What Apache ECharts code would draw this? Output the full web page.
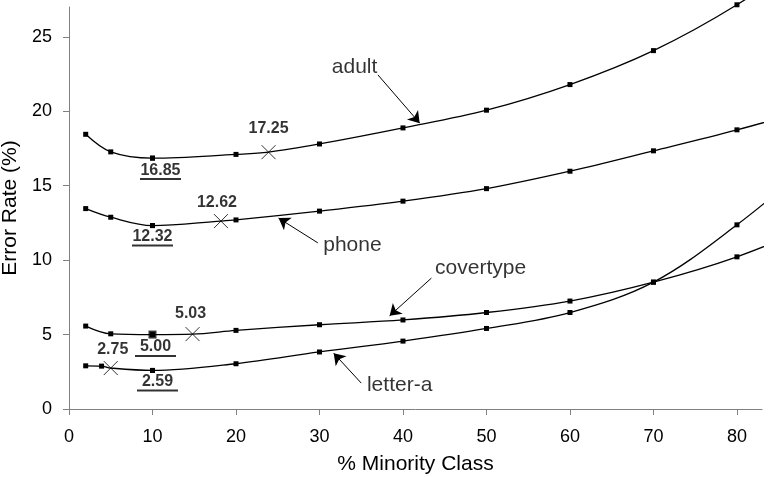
<!DOCTYPE html>
<html>
<head>
<meta charset="utf-8">
<script src="https://cdn.jsdelivr.net/npm/echarts@6/dist/echarts.min.js"></script>
<style>
  html, body { margin: 0; padding: 0; background: #fff; }
  #chart { width: 772px; height: 477px; }
</style>
</head>
<body>
<div id="chart"></div>
<script>
// ---- data ----
const xTicks = [0, 10, 20, 30, 40, 50, 60, 70, 80];
const yTicks = [0, 5, 10, 15, 20, 25];

const adultX = [2, 5, 10, 20, 30, 40, 50, 60, 70, 80, 90];
const adultY = [18.45, 17.27, 16.85, 17.1, 17.8, 18.88, 20.07, 21.79, 24.07, 27.15, 31.0];

const phoneX = [2, 5, 10, 20, 30, 40, 50, 60, 70, 80, 90];
const phoneY = [13.46, 12.88, 12.32, 12.7, 13.29, 13.96, 14.8, 15.97, 17.34, 18.75, 20.3];

const coverX = [2, 5, 10, 20, 30, 40, 50, 60, 70, 80, 90];
const coverY = [5.57, 5.05, 5.0, 5.28, 5.66, 5.98, 6.48, 7.25, 8.52, 10.22, 12.5];

const letterX = [2, 3.9, 10, 20, 30, 40, 50, 60, 70, 80, 90];
const letterY = [2.9, 2.88, 2.59, 3.04, 3.83, 4.56, 5.41, 6.48, 8.52, 12.37, 17.0];

const seriesNames = ['adult', 'phone', 'covertype', 'letter-a'];
// error rate at the natural class distribution (X markers)
const naturalX = [23.9, 18.2, 14.8, 5];
const naturalY = [17.25, 12.62, 5.03, 2.75];
// best (lowest) error rate
const bestX = [10, 10, 10, 10];
const bestY = [16.85, 12.32, 5.00, 2.59];

// ---- chart ----
const chart = echarts.init(document.getElementById('chart'), null, { renderer: 'canvas' });
const FONT = 'Liberation Sans, Arial, Helvetica, sans-serif';

const xs = [adultX, phoneX, coverX, letterX];
const ys = [adultY, phoneY, coverY, letterY];

function lineData(i) {
  const pts = xs[i].map((x, k) => ({ value: [x, ys[i][k]] }));
  pts.push({ value: [naturalX[i], naturalY[i]], symbol: 'none' });
  pts.sort((a, b) => a.value[0] - b.value[0]);
  return pts;
}

const natOffsets = [[0, -4], [-4, 1], [-2, -1], [2, 1]];
const bestOffsets = [[8, 0], [0, -1], [3, -1], [5, -1]];
const bestSizes = [5, 5, 8, 5];

const series = [];
for (let i = 0; i < 4; i++) {
  series.push({
    type: 'line',
    name: seriesNames[i],
    data: lineData(i),
    smooth: 0.35,
    clip: false,
    symbol: 'rect',
    symbolSize: 5,
    showAllSymbol: true,
    lineStyle: { color: '#000', width: 1.3 },
    itemStyle: { color: '#000' },
    silent: true,
    z: 2
  });
}

// natural distribution X markers with labels
series.push({
  type: 'scatter',
  data: naturalX.map((x, i) => ({
    value: [x, naturalY[i]],
    label: { offset: natOffsets[i] }
  })),
  symbol: 'path://M0,0L10,10M10,0L0,10',
  symbolSize: 14,
  itemStyle: { color: 'none', borderColor: '#000', borderWidth: 1 },
  label: {
    show: true,
    position: 'top',
    distance: 2,
    formatter: p => naturalY[p.dataIndex].toFixed(2),
    fontFamily: FONT,
    fontWeight: 'bold',
    fontSize: 16,
    color: '#000'
  },
  silent: true,
  z: 3
});

// best points with underlined labels
series.push({
  type: 'scatter',
  data: bestX.map((x, i) => ({
    value: [x, bestY[i]],
    symbolSize: bestSizes[i],
    label: { offset: bestOffsets[i] }
  })),
  symbol: 'rect',
  itemStyle: { color: '#000' },
  label: {
    show: true,
    position: 'bottom',
    distance: 2,
    formatter: p => '{v|' + bestY[p.dataIndex].toFixed(2) + '}\n{u|}',
    rich: {
      v: { fontFamily: FONT, fontWeight: 'bold', fontSize: 16, color: '#000', lineHeight: 15, align: 'center' },
      u: { width: 41, height: 2, backgroundColor: '#000', lineHeight: 3, align: 'center' }
    }
  },
  silent: true,
  z: 3
});

// annotation labels with arrows
const annX = [34.2, 33.95, 49.3, 39.6];
const annY = [22.97, 11.03, 9.48, 1.63];
series.push({
  type: 'scatter',
  data: annX.map((x, i) => [x, annY[i]]),
  symbolSize: 0,
  label: {
    show: true,
    position: 'inside',
    formatter: p => seriesNames[p.dataIndex],
    fontFamily: FONT,
    fontSize: 21,
    color: '#000'
  },
  silent: true,
  markLine: {
    silent: true,
    symbol: ['none', 'arrow'],
    symbolSize: 11,
    label: { show: false },
    lineStyle: { color: '#000', width: 1, type: 'solid' },
    itemStyle: { color: '#000' },
    emphasis: { disabled: true },
    animation: false,
    data: [
      [{ coord: [37.0, 22.44] }, { coord: [42.0, 19.2] }],
      [{ coord: [29.8, 11.16] }, { coord: [25.1, 12.82] }],
      [{ coord: [43.4, 8.79] }, { coord: [38.4, 6.26] }],
      [{ coord: [35.0, 1.74] }, { coord: [31.7, 3.75] }]
    ]
  },
  z: 4
});

chart.setOption({
  animation: false,
  backgroundColor: '#fff',
  grid: { left: 69, right: 10, top: 7, bottom: 68, containLabel: false, outerBoundsMode: 'none' },
  xAxis: {
    type: 'value',
    min: 0,
    max: 83,
    interval: 10,
    name: '% Minority Class',
    nameLocation: 'middle',
    nameGap: 45,
    nameTextStyle: { fontFamily: FONT, fontSize: 21, color: '#000' },
    axisLine: { show: true, lineStyle: { color: '#808080', width: 1 } },
    axisTick: { show: true, length: 6, customValues: xTicks, lineStyle: { color: '#808080' } },
    axisLabel: { customValues: xTicks, margin: 19, fontFamily: FONT, fontSize: 18, color: '#000' },
    splitLine: { show: false }
  },
  yAxis: {
    type: 'value',
    min: 0,
    max: 27,
    interval: 5,
    name: 'Error Rate (%)',
    nameLocation: 'middle',
    nameGap: 47,
    nameTextStyle: { fontFamily: FONT, fontSize: 21, color: '#000' },
    axisLine: { show: true, lineStyle: { color: '#808080', width: 1 } },
    axisTick: { show: true, length: 6, customValues: yTicks, lineStyle: { color: '#808080' } },
    axisLabel: { customValues: yTicks, margin: 17, fontFamily: FONT, fontSize: 18, color: '#000' },
    splitLine: { show: false }
  },
  series: series
});
</script>
</body>
</html>
